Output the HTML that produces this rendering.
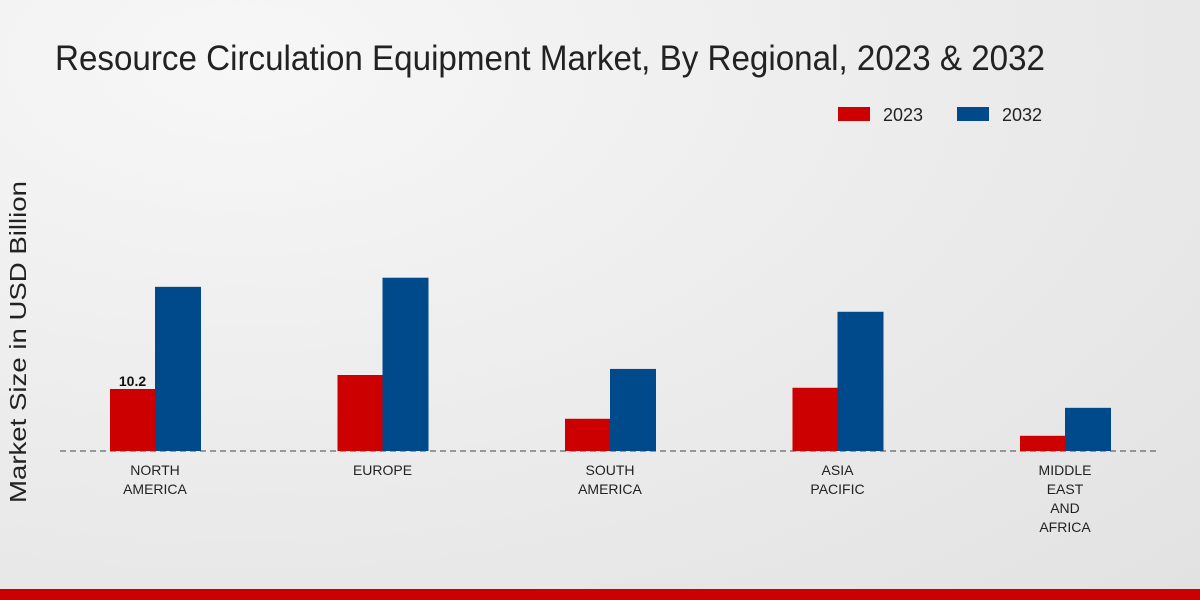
<!DOCTYPE html>
<html><head><meta charset="utf-8"><style>
html,body{margin:0;padding:0;width:1200px;height:600px;overflow:hidden}
body{background:radial-gradient(ellipse at 20% 10%,#f7f7f7 0%,#ebebeb 55%,#e2e2e2 100%);font-family:"Liberation Sans",sans-serif}
</style></head><body>
<svg id="chart" width="1200" height="600" xmlns="http://www.w3.org/2000/svg">
<text x="55" y="70" font-size="35" fill="#222" textLength="990" lengthAdjust="spacingAndGlyphs">Resource Circulation Equipment Market, By Regional, 2023 &amp; 2032</text>
<g>
<rect x="838" y="107" width="32" height="14" fill="#cc0000"/>
<text x="883" y="121" font-size="18" fill="#222">2023</text>
<rect x="957" y="107" width="32" height="14" fill="#004a8c"/>
<text x="1002" y="121" font-size="18" fill="#222">2032</text>
</g>
<text transform="translate(26,342) rotate(-90)" text-anchor="middle" font-size="23" fill="#222" textLength="322" lengthAdjust="spacingAndGlyphs">Market Size in USD Billion</text>
<line x1="60" y1="451" x2="1160" y2="451" stroke="#444" stroke-width="1" stroke-dasharray="6,4"/>
<g id="bars"></g>
<g id="labels"></g>
<rect x="0" y="589" width="1200" height="11" fill="#cc0000"/>
</svg>
<script>
const categories=["NORTH\nAMERICA","EUROPE","SOUTH\nAMERICA","ASIA\nPACIFIC","MIDDLE\nEAST\nAND\nAFRICA"];
const values2023=[10.2,12.5,5.3,10.4,2.5];
const values2032=[27.0,28.5,13.5,22.9,7.1];
const NS="http://www.w3.org/2000/svg";
const baseY=451, pxPerUnit=6.08, firstX=155, step=227.5, bw=45;
const yScale=v=>baseY-v*pxPerUnit;
const xCenter=i=>firstX+i*step;
const bars=document.getElementById('bars'), labels=document.getElementById('labels');
function mk(tag,attrs){const e=document.createElementNS(NS,tag);for(const k in attrs)e.setAttribute(k,attrs[k]);return e;}
categories.forEach((c,i)=>{
  const cx=xCenter(i);
  const r1=mk('rect',{x:cx-bw,y:yScale(values2023[i]),width:bw,height:baseY-yScale(values2023[i]),fill:'#cc0000'});
  
  
  bars.appendChild(r1);
  const r2=mk('rect',{x:cx,y:yScale(values2032[i]),width:bw+1,height:baseY-yScale(values2032[i]),fill:'#004a8c'});
  
  
  bars.appendChild(r2);
  const t=mk('text',{x:cx,y:475,'text-anchor':'middle','font-size':'14',fill:'#222'});
  
  
  c.split('\n').forEach((ln,j)=>{const ts=mk('tspan',{x:cx,y:475+j*19});ts.textContent=ln;t.appendChild(ts);});
  labels.appendChild(t);
});
const vl=mk('text',{x:xCenter(0)-bw/2,y:yScale(values2023[0])-3,'text-anchor':'middle','font-size':'14','font-weight':'bold',fill:'#111'});


vl.textContent=values2023[0].toFixed(1);
labels.appendChild(vl);
</script>
</body></html>
